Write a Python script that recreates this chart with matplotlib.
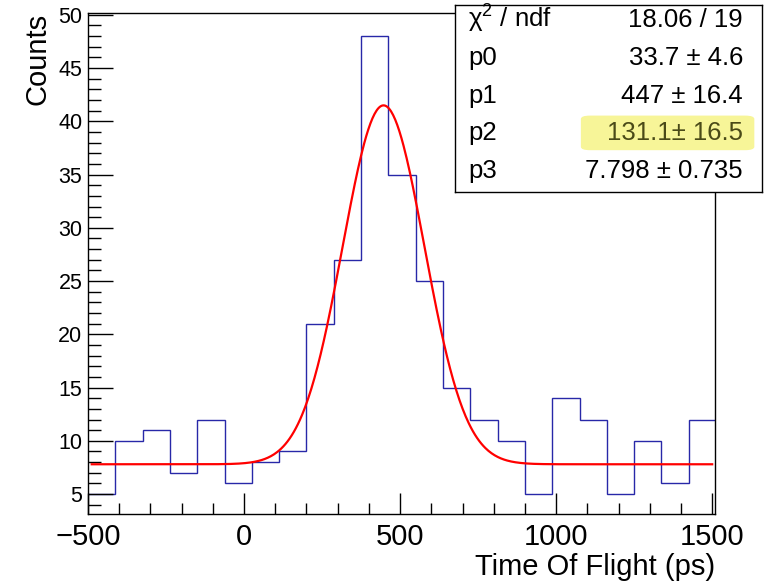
import numpy as np
import matplotlib
matplotlib.use('Agg')
import matplotlib.pyplot as plt
from matplotlib.patches import FancyBboxPatch
from matplotlib.ticker import MultipleLocator

plt.rcParams['font.family'] = ['Liberation Sans', 'DejaVu Sans']
plt.rcParams['mathtext.fontset'] = 'custom'
plt.rcParams['mathtext.rm'] = 'Liberation Sans'

# histogram contents (23 bins)
bin_lo = -500.0
bin_width = 87.5
counts = [5, 10, 11, 7, 12, 6, 8, 9, 21, 27, 48, 35, 25, 15, 12, 10, 5, 14, 12, 5, 10, 6, 12]

# fit parameters: p0*gaus(p1, p2) + p3
par_names = ['p0', 'p1', 'p2', 'p3']
par_values = [33.7, 447, 131.1, 7.798]
par_text = ['33.7 ± 4.6', '447 ± 16.4', '131.1± 16.5', '7.798 ± 0.735']
chi2_text = '18.06 / 19'
fit_range = [-488, 1500]

edges = bin_lo + bin_width * np.arange(len(counts) + 1)

fig = plt.figure(figsize=(7.64, 5.87), dpi=100)
ax = fig.add_axes([88/764, 1 - 514.3/587, (715-88)/764, (514.3-12.7)/587])

ax.stairs(counts, edges, color='#2828a8', lw=1.0, baseline=None)

x = np.linspace(fit_range[0], fit_range[1], 600)
p0, p1, p2, p3 = par_values
y = p0 * np.exp(-0.5 * ((x - p1) / p2) ** 2) + p3
ax.plot(x, y, color='#ff0000', lw=1.6)

ax.set_xlim(-500, 1509)
ax.set_ylim(3.1, 50.2)
ax.xaxis.set_major_locator(MultipleLocator(500))
ax.xaxis.set_minor_locator(MultipleLocator(100))
ax.yaxis.set_major_locator(MultipleLocator(5))
ax.yaxis.set_minor_locator(MultipleLocator(1))
ax.tick_params(axis='x', which='major', direction='in', length=15, width=1, labelsize=21, pad=6)
ax.tick_params(axis='x', which='minor', direction='in', length=8, width=1)
ax.tick_params(axis='y', which='major', direction='in', length=18, width=1, labelsize=15.5, pad=4)
ax.tick_params(axis='y', which='minor', direction='in', length=9, width=1)
for s in ax.spines.values():
    s.set_linewidth(1.0)

ax.set_xlabel('Time Of Flight (ps)', fontsize=21, loc='right', labelpad=2)
ax.set_ylabel('Counts', fontsize=21, loc='top')
ax.yaxis.set_label_coords(-0.058, 1.0)

# stat box
box = fig.add_axes([455/764, 1 - 191.7/587, 307/764, 187/587])
box.set_xticks([])
box.set_yticks([])
box.set_xlim(0, 1)
box.set_ylim(0, 1)
for s in box.spines.values():
    s.set_linewidth(1.0)

hl = FancyBboxPatch((0.41, 0.222), 0.565, 0.185, boxstyle='round,pad=0,rounding_size=0.03',
                    facecolor='#f7f598', edgecolor='none', transform=box.transAxes,
                    mutation_aspect=0.6)
box.add_patch(hl)

rows_y = [0.882, 0.679, 0.476, 0.278, 0.075]
labels = ['χ$^{2}$ / ndf'] + par_names
values = [chi2_text] + par_text
for i in range(5):
    col = '#4a4a18' if labels[i] == 'p2' else 'black'
    box.text(0.042, rows_y[i], labels[i], fontsize=18.5, va='baseline', ha='left')
    box.text(0.938, rows_y[i], values[i], fontsize=18.5, va='baseline', ha='right', color=col)

fig.savefig('out.png', dpi=100)
